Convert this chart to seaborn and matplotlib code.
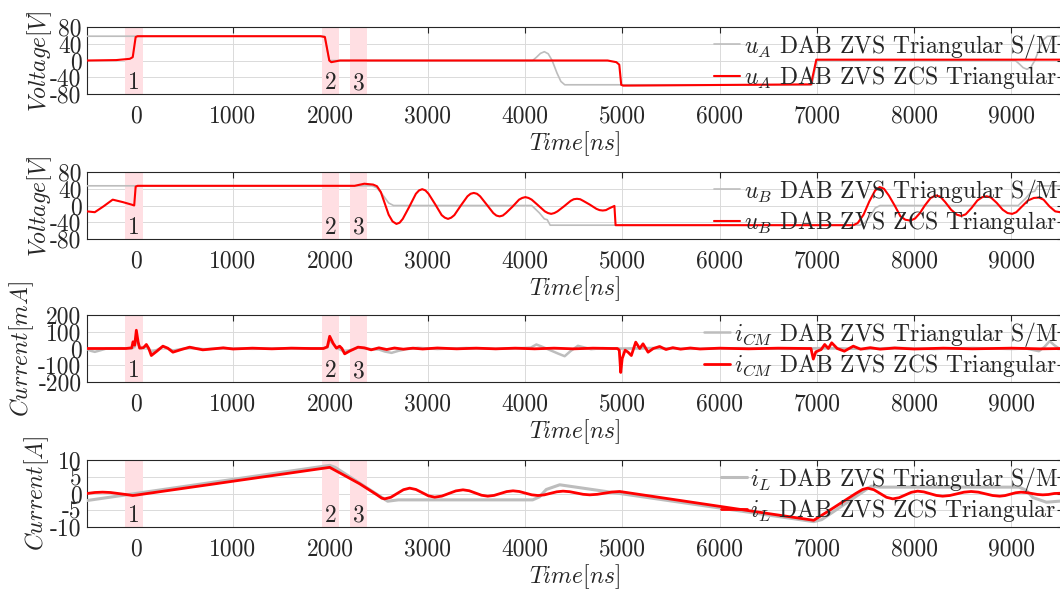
import numpy as np
import matplotlib
matplotlib.use("Agg")
import matplotlib.pyplot as plt
import matplotlib.transforms as mtransforms
import seaborn as sns

# ---------------- data (time in ns) ----------------
# Panel 1: u_A [V]
t_uA_sm = [-500, 1940, 1990, 2010, 4080, 4120, 4160, 4200, 4240, 4280, 4330, 4370, 4410, 6950, 7000,
           9040, 9080, 9120, 9160, 9200, 9240, 9290, 9330, 9370, 9530]
v_uA_sm = [58, 58, 0, 0, 0, 8, 17, 21, 16, 0, -30, -50, -58, -58, 0,
           0, -8, -17, -21, -16, 0, 30, 50, 58, 58]
t_uA_zcs = [-500, -200, -60, -30, 0, 20, 1900, 1945, 1990, 2010, 2100, 4850, 4940, 4970, 4990, 5010, 6940, 6995, 7010, 9530]
v_uA_zcs = [0, 1, 4, 8, 56, 58, 58, 56, 0, -4, 0, 0, -4, -10, -58, -60, -57, 2, 2, 2]

# Panel 2: u_B [V]
t_uB_sm = [-500, 2430, 2480, 2540, 2600, 2650, 4070, 4150, 4200, 4230, 4260, 7440, 7490, 7550, 7600, 7650, 9070, 9150, 9200, 9240, 9270, 9530]
v_uB_sm = [47, 47, 42, 25, 6, 0, 0, -18, -32, -34, -47, -47, -42, -25, -6, 0, 0, 18, 32, 34, 47, 47]
t_uB_zcs = [-500, -420, -330, -236, -130, -40, -15, 0, 20, 2250, 2350,
            2440, 2480, 2520, 2560, 2600, 2640, 2680, 2713, 2745, 2812, 2880, 2912, 2945, 2978, 3010, 3078,
            3145, 3177, 3210, 3243, 3275, 3342, 3410, 3442, 3475, 3508, 3540, 3608, 3675, 3707, 3740, 3773,
            3805, 3872, 3940, 3972, 4005, 4038, 4070, 4138, 4205, 4237, 4270, 4303, 4335, 4402, 4470, 4502,
            4535, 4568, 4600, 4668, 4735, 4767, 4800, 4833, 4865, 4920, 4932, 4960,
            7375, 7420, 7480, 7540, 7600, 7646, 7690, 7740, 7800, 7860, 7910, 7962, 8010, 8060, 8110,
            8170, 8224, 8270, 8320, 8380, 8440, 8485, 8530, 8590, 8650, 8700, 8746, 8790, 8850, 8910,
            8960, 9008, 9050, 9110, 9170, 9230, 9281, 9330, 9390, 9450, 9500, 9530]
v_uB_zcs = [-14, -16, -2, 14, 8, 2, 0, 45, 47, 47, 52,
            50, 46, 32, 5, -22, -38, -44, -41, -32, -3, 28, 36, 39, 36, 28, 3,
            -23, -29, -32, -29, -23, 0, 22, 28, 30, 28, 22, 2, -18, -24, -26, -24,
            -18, -3, 14, 18, 20, 18, 14, 0, -14, -18, -20, -18, -14, -2, 11, 15,
            16, 15, 11, 2, -8, -11, -12, -11, -7, -1, -47, -47,
            -47, -42, -22, 10, 36, 44, 40, 24, 0, -26, -34, -36, -31, -18, 0,
            18, 24, 21, 8, -10, -22, -25, -21, -6, 12, 20, 22, 19, 6, -10,
            -18, -20, -16, -2, 12, 18, 19, 14, -2, -14, -16, -12]

# Panel 3: i_CM [mA]
t_iCM_sm = [-500, -460, -420, -370, -300, -150, -40, -10, 7, 30, 60, 110, 161, 220, 280, 383, 555, 700, 900, 1200,
            1600, 1900, 1970, 1994, 2063, 2148, 2285, 2420, 2500, 2560, 2630, 2700, 2780, 2900, 3100, 3400, 3700,
            3950, 4060, 4118, 4180, 4260, 4340, 4409, 4470, 4545, 4600, 4680, 4800, 5000, 5300, 5700, 6200, 6700,
            7100, 7500, 7800, 8200, 8600, 9000, 9150, 9230, 9283, 9340, 9393, 9440, 9490, 9530]
v_iCM_sm = [-4, -14, -20, -12, 0, 2, 0, 10, 60, 20, 0, 10, -20, -8, 10, -12, 5, -4, 2, -2,
            2, 0, 6, 50, 5, -20, 5, -4, -6, -18, -26, -14, -4, 4, -3, 3, -2,
            2, 5, 24, 10, -10, -30, -46, -15, 16, 8, -4, 2, 0, 3, -2, 2, -2,
            3, -3, 4, -3, 3, -3, 0, -10, -16, 10, 44, 20, 0, -8]
t_iCM_zcs = [-500, -100, -40, -27, -10, 7, 25, 41, 80, 110, 135, 161, 220, 280, 330, 383, 470, 555, 620, 690,
             800, 900, 1000, 1200, 1400, 1600, 1800, 1930, 1970, 1994, 2030, 2063, 2096, 2120, 2148, 2200, 2285,
             2350, 2420, 2500, 2580, 2660, 2750, 2850, 2950, 3100, 3300, 3500, 3700, 3900, 4100, 4300, 4500, 4700,
             4900, 4950, 4970, 4985, 5000, 5030, 5060, 5094, 5139, 5180, 5214, 5266, 5320, 5385, 5450, 5520, 5600,
             5700, 5800, 6000, 6300, 6600, 6900, 6940, 6964, 6990, 7045, 7081, 7118, 7153, 7210, 7283, 7375, 7450,
             7550, 7650, 7800, 8000, 8300, 8600, 9000, 9300, 9530]
v_iCM_zcs = [0, 0, 4, 40, 20, 109, 40, 2, 5, 24, 0, -42, -15, 14, 2, -22, -6, 8, 0, -8,
             -2, 4, -3, 2, -2, 2, 0, 0, 10, 73, 30, 2, 14, 0, -32, -15, 8,
             4, -8, 4, -6, 3, -4, 2, -3, 3, -2, 2, -2, 2, -2, 2, -2, 2,
             0, 0, -10, -143, -60, -10, -22, -42, 38, 0, 28, -22, 0, 12, -6, 5, -4,
             3, -3, 2, -2, 2, 0, 0, -63, -20, -6, 24, 0, 34, 0, -16, 14, -4,
             5, -4, 3, -3, 2, -2, 2, -2, 0]

# Panel 4: i_L [A]
t_iL_sm = [-500, 1994, 2050, 2590, 2700, 4080, 4150, 4220, 4358, 6968, 7050, 7560, 7650, 9080, 9150, 9220, 9360, 9530]
v_iL_sm = [-2.1, 8.4, 7.8, -2.3, -1.9, -1.9, -1.0, 1.2, 2.6, -8.4, -7.8, 2.2, 1.9, 1.9, 1.0, -1.2, -2.6, -2.2]
t_iL_zcs = [-500, -420, -340, -260, -180, -100, -30, 0, 1994, 2302, 2480, 2530, 2559, 2623, 2687, 2752, 2816,
            2880, 2945, 3009, 3073, 3146, 3218, 3291, 3364, 3428, 3491, 3555, 3618, 3683, 3748, 3813, 3878,
            3942, 4006, 4071, 4135, 4199, 4263, 4328, 4392, 4460, 4529, 4598, 4666, 4743, 4820, 4897, 4974,
            6968, 7100, 7250, 7400, 7470, 7521, 7586, 7651, 7716, 7781, 7845, 7908, 7972, 8036, 8100, 8164,
            8229, 8293, 8366, 8440, 8513, 8586, 8660, 8733, 8807, 8880, 8934, 8989, 9043, 9098, 9154, 9210,
            9266, 9322, 9380, 9440, 9530]
v_iL_zcs = [0, 0.3, 0.4, 0.3, 0, -0.3, -0.6, -0.5, 7.8, 2.9, -0.4, -1.4, -1.6, -1.13, 0, 1.13, 1.6,
            1.2, 0.25, -0.7, -1.1, -0.78, 0, 0.78, 1.1, 0.82, 0.15, -0.52, -0.8, -0.57, 0, 0.57, 0.8,
            0.6, 0.1, -0.4, -0.6, -0.41, 0.05, 0.51, 0.7, 0.54, 0.15, -0.24, -0.4, -0.25, 0.1, 0.45, 0.6,
            -8.0, -5.6, -2.8, 0, 1.2, 1.6, 1.13, 0, -1.13, -1.6, -1.26, -0.45, 0.36, 0.7, 0.48, -0.05,
            -0.58, -0.8, -0.6, -0.1, 0.4, 0.6, 0.4, -0.1, -0.6, -0.8, -0.62, -0.2, 0.22, 0.4, 0.28, 0,
            -0.28, -0.4, -0.3, 0, 0.1]

# Highlighted intervals and their labels
region_starts = [-110, 1920, 2200]
region_ends = [75, 2090, 2380]
region_labels = ["1", "2", "3"]

x_ticks = [0, 1000, 2000, 3000, 4000, 5000, 6000, 7000, 8000, 9000]
x_range = [-500, 9530]

panels = [
    dict(t1=t_uA_sm, v1=v_uA_sm, t2=t_uA_zcs, v2=v_uA_zcs, sym=r"$u_A$", ylabel=r"$Voltage[V]$",
         yticks=[-80, -40, 0, 40, 80], lw1=1.2, lw2=1.5, labx=-0.034),
    dict(t1=t_uB_sm, v1=v_uB_sm, t2=t_uB_zcs, v2=v_uB_zcs, sym=r"$u_B$", ylabel=r"$Voltage[V]$",
         yticks=[-80, -40, 0, 40, 80], lw1=1.2, lw2=1.5, labx=-0.034),
    dict(t1=t_iCM_sm, v1=v_iCM_sm, t2=t_iCM_zcs, v2=v_iCM_zcs, sym=r"$i_{CM}$", ylabel=r"$Current[mA]$",
         yticks=[-200, -100, 0, 100, 200], lw1=1.8, lw2=2.0, labx=-0.052),
    dict(t1=t_iL_sm, v1=v_iL_sm, t2=t_iL_zcs, v2=v_iL_zcs, sym=r"$i_L$", ylabel=r"$Current[A]$",
         yticks=[-10, -5, 0, 5, 10], lw1=2.2, lw2=2.0, labx=-0.037),
]

# ---------------- style ----------------
sns.set_theme(style="white")
plt.rcParams["font.family"] = ["cmr10", "DejaVu Serif"]
plt.rcParams["mathtext.fontset"] = "cm"
plt.rcParams["axes.unicode_minus"] = False
plt.rcParams["axes.formatter.use_mathtext"] = False

FS = 17
W, H = 1060, 593
fig = plt.figure(figsize=(W / 100, H / 100), dpi=100)

tops = [27, 172, 315, 460]
ax_h = 67
left_px, right_px = 87, 1063

for p, top in zip(panels, tops):
    ax = fig.add_axes([left_px / W, 1 - (top + ax_h) / H, (right_px - left_px) / W, ax_h / H])
    ylo, yhi = p["yticks"][0], p["yticks"][-1]
    for s, e in zip(region_starts, region_ends):
        ax.axvspan(s, e, color="#ffdfe3", lw=0, zorder=1)
    sns.lineplot(x=p["t1"], y=p["v1"], ax=ax, color="#bdbdbd", lw=p["lw1"], sort=False, estimator=None,
                 label=p["sym"] + " DAB ZVS Triangular S/M", zorder=3)
    sns.lineplot(x=p["t2"], y=p["v2"], ax=ax, color="#ff0000", lw=p["lw2"], sort=False, estimator=None,
                 label=p["sym"] + " DAB ZVS ZCS Triangular", zorder=4)
    trans = mtransforms.blended_transform_factory(ax.transData, ax.transAxes)
    for s, e, lab in zip(region_starts, region_ends, region_labels):
        ax.text((s + e) / 2, 0.0, lab, transform=trans, ha="center", va="bottom", fontsize=FS, zorder=6)
    ax.set_xlim(x_range)
    ax.set_ylim(ylo, yhi)
    ax.set_xticks(x_ticks)
    ax.set_yticks(p["yticks"])
    ax.grid(True, color="#dadada", lw=0.7, zorder=0)
    ax.set_axisbelow(True)
    for sp in ax.spines.values():
        sp.set_color("#262626")
        sp.set_linewidth(0.8)
    ax.tick_params(axis="both", direction="in", length=4, width=0.8, color="#262626",
                   labelsize=FS, labelcolor="#262626", top=True, right=True)
    ax.tick_params(axis="x", pad=8)
    ax.tick_params(axis="y", pad=4)
    ax.set_xlabel(r"$Time[ns]$", fontsize=FS, color="#262626")
    ax.set_ylabel(p["ylabel"], fontsize=FS, color="#262626")
    ax.xaxis.set_label_coords(0.5, -0.53)
    ax.yaxis.set_label_coords(p["labx"], 0.5)
    leg = ax.legend(loc="upper right", frameon=False, fontsize=FS, handlelength=1.1, handletextpad=0.15,
                    labelspacing=0.15, borderaxespad=0.0, borderpad=0.2)
    leg.set_zorder(7)

fig.savefig("out.png", dpi=100)
